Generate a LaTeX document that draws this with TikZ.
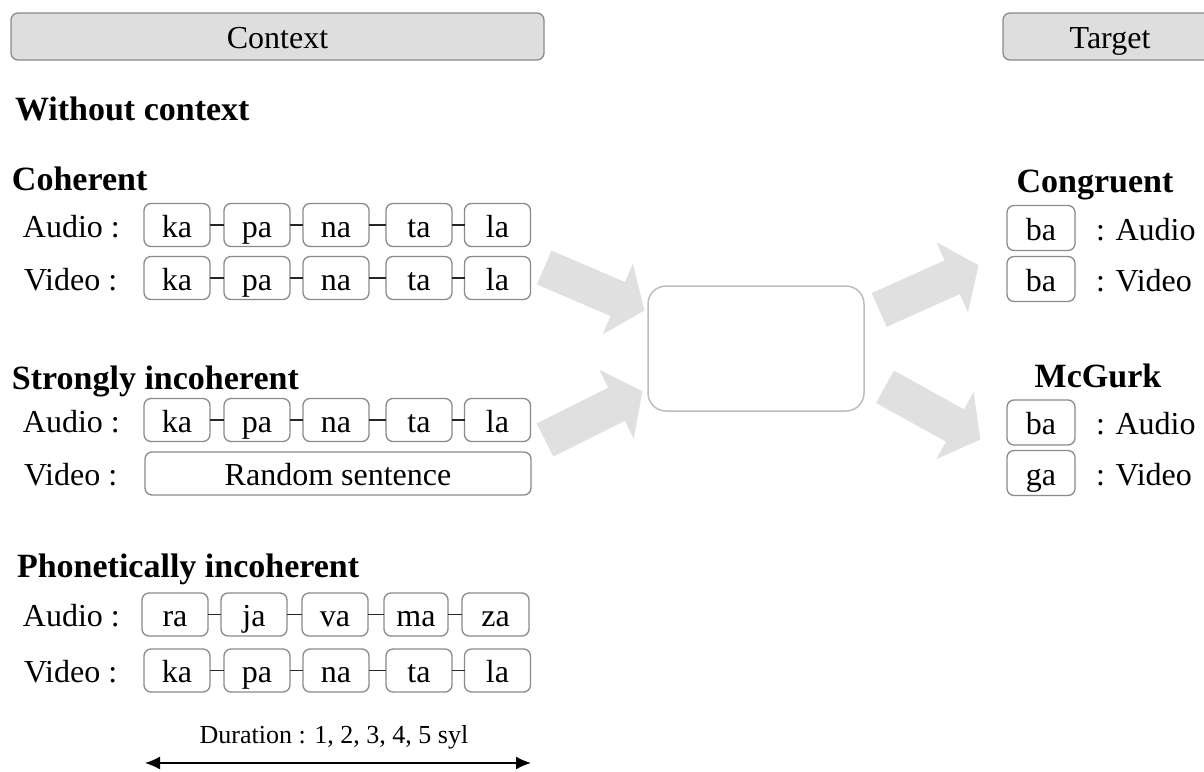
\documentclass[tikz,border=0pt]{standalone}
\usepackage{fontspec}
\setmainfont{Liberation Serif}
\usetikzlibrary{arrows.meta}
\definecolor{boxline}{HTML}{8A8A8A}
\definecolor{hdrfill}{HTML}{DEDEDE}
\definecolor{arrfill}{HTML}{E0E0E0}
\definecolor{midline}{HTML}{BDBDBD}
\begin{document}
\begin{tikzpicture}[x=1pt,y=-1pt,
  every node/.style={inner sep=0pt, outer sep=0pt},
  big/.style={font=\fontsize{32}{38}\selectfont},
  hdr/.style={big, draw=boxline, fill=hdrfill, line width=1.3pt, rounded corners=7pt,
    minimum height=47pt, text height=23pt, text depth=0pt},
  syl/.style={big, draw=boxline, line width=1.3pt, rounded corners=7pt,
    minimum width=66pt, minimum height=43pt, text height=24pt, text depth=0pt},
  lbl/.style={big, anchor=west, text height=24pt, text depth=0pt},
  tsyl/.style={syl, minimum width=68pt, minimum height=45pt},
  head/.style={font=\fontsize{34}{40}\selectfont\bfseries, anchor=base west},
  thead/.style={font=\fontsize{34}{40}\selectfont\bfseries, anchor=base},
  conn/.style={line width=1.3pt, draw=black!85},
  barrow/.pic={\fill[arrfill] (0,-18.5) -- (80,-18.5) -- (80,-38.5) -- (109,0)
    -- (80,38.5) -- (80,18.5) -- (0,18.5) -- cycle;}
]
\useasboundingbox (0,0) rectangle (1204,771);

% header boxes
\node[hdr, minimum width=533pt] (ctx) at (277.5,36.5) {Context};
\node[hdr, minimum width=214pt] (tgt) at (1110,36.5) {Target};

% headings
\node[head] (wc) at (15,120) {Without context};
\node[head] (coh) at (12,190) {Coherent};
\node[head] (sinc) at (12,389) {Strongly incoherent};
\node[head] (pinc) at (17,577) {Phonetically incoherent};

% row labels
\node[lbl] (l1a) at (23,225) {Audio :};
\node[lbl] (l1v) at (24,278) {Video :};
\node[lbl] (l2a) at (23,420) {Audio :};
\node[lbl] (l2v) at (24,473.5) {Video :};
\node[lbl] (l3a) at (23,614.5) {Audio :};
\node[lbl] (l3v) at (24,670.5) {Video :};

% Coherent rows
\node[syl] (r1a1) at (177,225) {ka};
\node[syl] (r1a2) at (257,225) {pa};
\node[syl] (r1a3) at (336,225) {na};
\node[syl] (r1a4) at (419,225) {ta};
\node[syl] (r1a5) at (497.5,225) {la};
\node[syl] (r1v1) at (177,278) {ka};
\node[syl] (r1v2) at (257,278) {pa};
\node[syl] (r1v3) at (336,278) {na};
\node[syl] (r1v4) at (419,278) {ta};
\node[syl] (r1v5) at (497.5,278) {la};

% Strongly incoherent rows
\node[syl] (r2a1) at (177,420) {ka};
\node[syl] (r2a2) at (257,420) {pa};
\node[syl] (r2a3) at (336,420) {na};
\node[syl] (r2a4) at (419,420) {ta};
\node[syl] (r2a5) at (497.5,420) {la};
\node[syl, minimum width=386pt] (r2v) at (338,473.5) {Random sentence};

% Phonetically incoherent rows
\node[syl] (r3a1) at (175,614.5) {ra};
\node[syl] (r3a2) at (254,614.5) {ja};
\node[syl] (r3a3) at (335,614.5) {va};
\node[syl, minimum width=64pt] (r3a4) at (416,614.5) {ma};
\node[syl, minimum width=67pt] (r3a5) at (495.5,614.5) {za};
\node[syl] (r3v1) at (177,670.5) {ka};
\node[syl] (r3v2) at (257,670.5) {pa};
\node[syl] (r3v3) at (336,670.5) {na};
\node[syl] (r3v4) at (419,670.5) {ta};
\node[syl] (r3v5) at (497.5,670.5) {la};

% links between syllables
\foreach \r in {r1a,r1v,r2a,r3a,r3v}{
  \foreach \i/\j in {1/2,2/3,3/4,4/5}{
    \draw[conn] (\r\i.east) -- (\r\j.west);
  }
}

% duration
\node[font=\fontsize{26}{30}\selectfont, anchor=base] (dur) at (334,743) {Duration : 1, 2, 3, 4, 5 syl};
\coordinate (dl) at (145,763);
\coordinate (dr) at (531,763);
\draw[line width=1.5pt, {Latex[length=15pt,width=13pt]}-{Latex[length=15pt,width=13pt]}] (dl) -- (dr);

% central box
\node[draw=midline, line width=1.5pt, rounded corners=18pt, minimum width=216pt, minimum height=125pt] (mid) at (756,348.5) {};

% block arrows
\pic[rotate=-23.2] at (544.2,267.5) {barrow};
\pic[rotate=26.6] at (545,440) {barrow};
\pic[rotate=24.2] at (879.2,310) {barrow};
\pic[rotate=-29] at (885,386.7) {barrow};

% target side
\node[thead] (cong) at (1095,192) {Congruent};
\node[tsyl] (cA) at (1041,228) {ba};
\node[lbl] (cAl) at (1096,228) {: Audio};
\node[tsyl] (cV) at (1041,279) {ba};
\node[lbl] (cVl) at (1096,279) {: Video};
\node[thead] (mcg) at (1098,387) {McGurk};
\node[tsyl] (mA) at (1041,422.5) {ba};
\node[lbl] (mAl) at (1096,422.5) {: Audio};
\node[tsyl] (mV) at (1041,473) {ga};
\node[lbl] (mVl) at (1096,473) {: Video};
\end{tikzpicture}
\end{document}
